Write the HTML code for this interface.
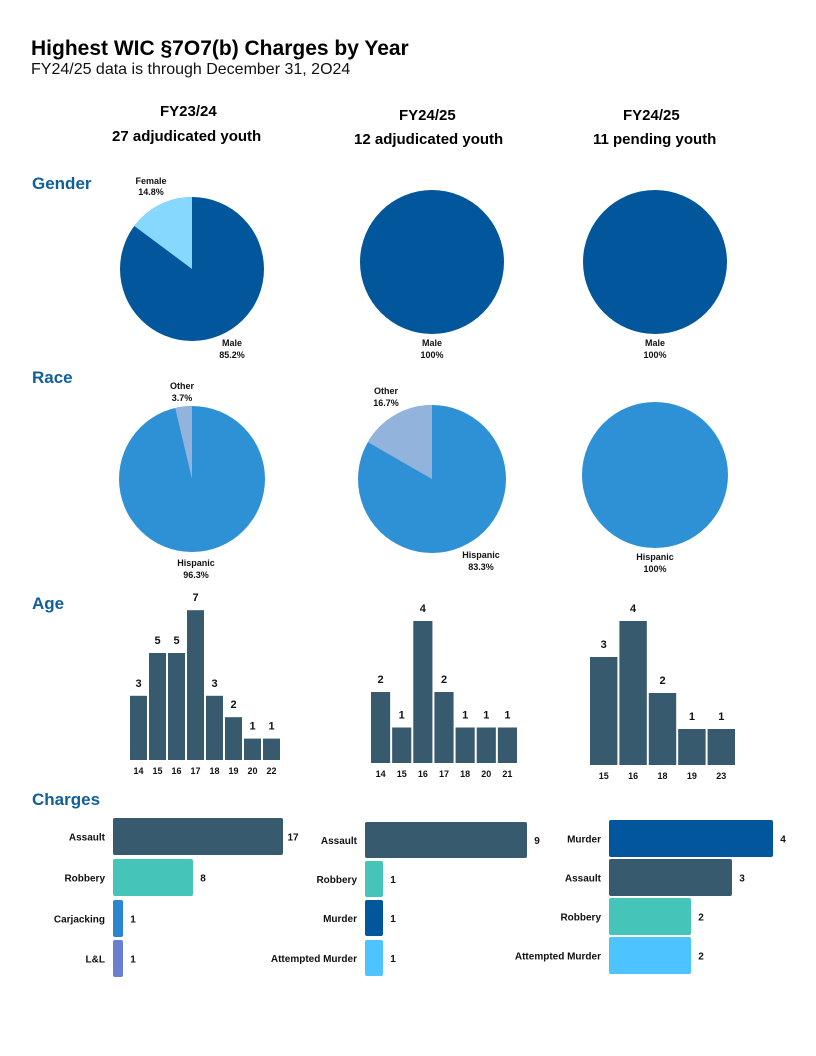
<!DOCTYPE html>
<html><head><meta charset="utf-8"><style>
body{margin:0;background:#fff;font-family:"Liberation Sans",sans-serif;}
#root{position:relative;width:816px;height:1056px;overflow:hidden;}
.t{position:absolute;white-space:nowrap;}
</style></head><body>
<div id="root">
<div class="t" style="left:31px;top:37px;font-size:21px;font-weight:bold;color:#000;">Highest WIC §7O7(b) Charges by Year</div>
<div class="t" style="left:31px;top:61px;font-size:16px;color:#111;">FY24/25 data is through December 31, 2O24</div>
<div class="t" style="left:160px;top:103px;font-size:15px;font-weight:bold;">FY23/24</div>
<div class="t" style="left:112px;top:128px;font-size:15px;font-weight:bold;">27 adjudicated youth</div>
<div class="t" style="left:399px;top:107px;font-size:15px;font-weight:bold;">FY24/25</div>
<div class="t" style="left:354px;top:131px;font-size:15px;font-weight:bold;">12 adjudicated youth</div>
<div class="t" style="left:623px;top:107px;font-size:15px;font-weight:bold;">FY24/25</div>
<div class="t" style="left:593px;top:131px;font-size:15px;font-weight:bold;">11 pending youth</div>
<div class="t" style="left:32px;top:174px;font-size:17px;font-weight:bold;color:#0F5F9A;">Gender</div>
<div class="t" style="left:32px;top:368px;font-size:17px;font-weight:bold;color:#0F5F9A;">Race</div>
<div class="t" style="left:32px;top:594px;font-size:17px;font-weight:bold;color:#0F5F9A;">Age</div>
<div class="t" style="left:32px;top:790px;font-size:17px;font-weight:bold;color:#0F5F9A;">Charges</div>
<svg id="svg" width="816" height="1056" style="position:absolute;left:0;top:0"></svg>
</div>
<script>
// Gender pies (percent of minority slice)
const genderFemale = [14.8, 0, 0];
const genderLabels = [["Male","85.2%","Female","14.8%"],["Male","100%"],["Male","100%"]];
// Race pies (percent Other)
const raceOther = [3.7, 16.7, 0];
const raceLabels = [["Hispanic","96.3%","Other","3.7%"],["Hispanic","83.3%","Other","16.7%"],["Hispanic","100%"]];
// Age
const ageCats1 = ["14","15","16","17","18","19","20","22"];
const ageVals1 = [3,5,5,7,3,2,1,1];
const ageCats2 = ["14","15","16","17","18","20","21"];
const ageVals2 = [2,1,4,2,1,1,1];
const ageCats3 = ["15","16","18","19","23"];
const ageVals3 = [3,4,2,1,1];
// Charges
const chCats1 = ["Assault","Robbery","Carjacking","L&L"];
const chVals1 = [17,8,1,1];
const chCats2 = ["Assault","Robbery","Murder","Attempted Murder"];
const chVals2 = [9,1,1,1];
const chCats3 = ["Murder","Assault","Robbery","Attempted Murder"];
const chVals3 = [4,3,2,2];

const svg=document.getElementById('svg');
const NS='http://www.w3.org/2000/svg';
function mk(tag,attrs,name){const e=document.createElementNS(NS,tag);for(const k in attrs)e.setAttribute(k,attrs[k]);


svg.appendChild(e);return e;}
function txt(x,y,s,size,anchor,name,weight){const t=mk('text',{x:x,y:y,'font-size':size,'text-anchor':anchor||'middle','font-weight':weight||'bold','font-family':'Liberation Sans, sans-serif',fill:'#111'},name);t.textContent=s;return t;}
function pie(cx,cy,r,pct,main,minor,name){
  mk('circle',{cx:cx,cy:cy,r:r,fill:main},name+'-main');
  if(pct>0){const a=pct/100*2*Math.PI;const x=cx-r*Math.sin(a),y=cy-r*Math.cos(a);
    mk('path',{d:`M${cx},${cy} L${cx},${cy-r} A${r},${r} 0 ${pct>50?1:0} 0 ${x},${y} Z`,fill:minor},name+'-minor');}
}
const gx=[192,432,655];
gx.forEach((cx,i)=>{
  const gy=i==0?269:262;
  pie(cx,gy,72,genderFemale[i],'#02569B','#87D8FF','gender-pie-'+(i+1));
  const L=genderLabels[i];
  txt(i==0?232:cx,346,L[0],9,'middle','gender-label-male-'+(i+1));
  txt(i==0?232:cx,358,L[1],9,'middle','gender-value-male-'+(i+1));
  if(L[2]){txt(151,184,L[2],9,'middle','gender-label-female');txt(151,195,L[3],9,'middle','gender-value-female');}
  const ry=i==2?475:479;
  pie(cx,ry,i==1?74:73,raceOther[i],'#2E91D6','#92B4DC','race-pie-'+(i+1));
  const R=raceLabels[i];
  const hx=[196,481,655][i],hy=[566,558,560][i];
  txt(hx,hy,R[0],9,'middle','race-label-hispanic-'+(i+1));
  txt(hx,hy+12,R[1],9,'middle','race-value-hispanic-'+(i+1));
  if(R[2]){const ox=[182,386][i],oy=[389,394][i];
    txt(ox,oy,R[2],9,'middle','race-label-other-'+(i+1));txt(ox,oy+12,R[3],9,'middle','race-value-other-'+(i+1));}
});
function ageChart(cats,vals,x0,x1,base,unit,gap,name){
  const w=(x1-x0)/cats.length;
  cats.forEach((c,i)=>{const h=vals[i]*unit,x=x0+i*w;
    mk('rect',{x:x+gap/2,y:base-h,width:w-gap,height:h,fill:'#375A6E'},name+'-bar-'+c);
    txt(x+w/2,base-h-9,String(vals[i]),11,'middle',name+'-value-'+c);
    txt(x+w/2,base+14,c,9,'middle',name+'-tick-'+c);
  });
}
ageChart(ageCats1,ageVals1,129,281,760,21.4,2,'age1');
ageChart(ageCats2,ageVals2,370,518,763,35.5,2,'age2');
ageChart(ageCats3,ageVals3,589,736,765,36,2,'age3');
const colorMap={"Assault":"#375A6E","Robbery":"#45C4BA","Carjacking":"#2A86CF","L&L":"#6A7FD2","Murder":"#02569B","Attempted Murder":"#4DC3FF"};
function chChart(cats,vals,x0,unit,ys,h,name){
  cats.forEach((c,i)=>{const w=vals[i]*unit,y=ys[i];
    mk('rect',{x:x0,y:y,width:w,height:h,rx:2,fill:colorMap[c]},name+'-bar-'+i);
    txt(x0-8,y+h/2+4,c,10,'end',name+'-label-'+i);
    txt(x0+w+10,y+h/2+4,String(vals[i]),10,'middle',name+'-value-'+i);
  });
}
chChart(chCats1,chVals1,113,10,[818,859,900,940],37,'charges1');
chChart(chCats2,chVals2,365,18,[822,861,900,940],36,'charges2');
chChart(chCats3,chVals3,609,41,[820,859,898,937],37,'charges3');
</script>
</body></html>
